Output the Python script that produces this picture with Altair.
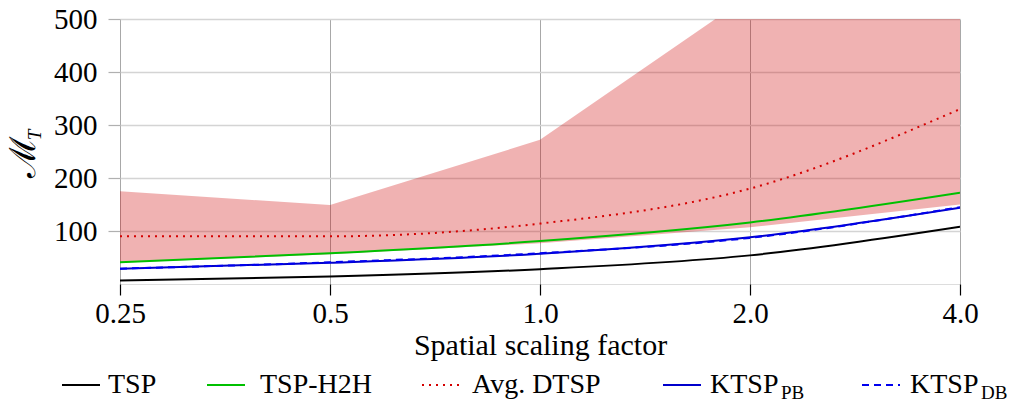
import altair as alt
import pandas as pd

# ---- data ----
x_vals = [0.25, 0.5, 1.0, 2.0, 4.0]
tsp = [6.5, 14, 28, 54, 108]
tsp_h2h = [41, 58, 81, 116, 172]
avg_dtsp = [90, 90, 114, 180, 330]
ktsp_pb = [29, 40, 57, 88, 144]
ktsp_db = [29, 41, 58, 87, 145]
band_low = [40, 56, 77, 107, 150]
band_high = [175, 149, 272, 545, 900]

series_names = ["TSP", "TSP-H2H", "Avg. DTSP", "KTSP_PB", "KTSP_DB"]
series_values = [tsp, tsp_h2h, avg_dtsp, ktsp_pb, ktsp_db]
series_colors = ["#000000", "#00c000", "#d40000", "#0000cc", "#0000ee"]
series_dash = [None, None, [2, 5], None, [7, 5]]
legend_main = ["TSP", "TSP-H2H", "Avg. DTSP", "KTSP", "KTSP"]
legend_sub = ["", "", "", "PB", "DB"]

y_ticks = [100, 200, 300, 400, 500]

FONT = "'Liberation Serif', 'Times New Roman', 'DejaVu Serif', serif"
W, H = 840, 265

xscale = alt.Scale(type="log", base=2, domain=[0.25, 4], nice=False)
yscale = alt.Scale(domain=[0, 500], nice=False)

xaxis = alt.Axis(
    values=x_vals,
    labelExpr="datum.value == 0.25 ? '0.25' : format(datum.value, '.1f')",
    grid=True, gridColor="#a8a8a8", gridWidth=1,
    tickColor="#000000", tickSize=11, tickWidth=1.2,
    domain=False,
    labelFont=FONT, labelFontSize=29, labelColor="#000", labelPadding=4,
    titleFont=FONT, titleFontSize=30, titleFontWeight="normal", titleColor="#000",
    titlePadding=2, labelFlush=False,
)
yaxis = alt.Axis(
    values=y_ticks,
    grid=True, gridColor="#d4d4d4", gridWidth=1.5,
    tickColor="#b0b0b0", tickSize=12, tickWidth=1.2,
    domain=False,
    labelFont=FONT, labelFontSize=29, labelColor="#000", labelPadding=11,
    title=None,
)

band_df = pd.DataFrame({"x": x_vals, "lo": band_low, "hi": band_high})
band = alt.Chart(band_df).mark_area(color="#cc0000", opacity=0.3, clip=True).encode(
    x=alt.X("x:Q", scale=xscale, axis=xaxis, title="Spatial scaling factor"),
    y=alt.Y("lo:Q", scale=yscale, axis=yaxis),
    y2="hi:Q",
)

layers = [band]
for name, vals, col, dash in zip(series_names, series_values, series_colors, series_dash):
    df = pd.DataFrame({"x": x_vals, "y": vals, "s": name})
    kw = dict(color=col, strokeWidth=2, interpolate="monotone", clip=True)
    if dash is not None:
        kw["strokeDash"] = dash
    layers.append(
        alt.Chart(df).mark_line(**kw).encode(
            x=alt.X("x:Q", scale=xscale),
            y=alt.Y("y:Q", scale=yscale),
        )
    )

one = pd.DataFrame({"a": [0]})

# y-axis title: script M with subscript T
layers.append(
    alt.Chart(pd.DataFrame({"t": ["ℳ"]})).mark_text(
        angle=270, fontSize=36, font="DejaVu Serif", color="#000", baseline="middle", align="center"
    ).encode(x=alt.value(-96), y=alt.value(138), text="t:N")
)
layers.append(
    alt.Chart(pd.DataFrame({"t": ["T"]})).mark_text(
        angle=270, fontSize=19, font=FONT, fontStyle="italic", color="#000", baseline="middle", align="center"
    ).encode(x=alt.value(-85), y=alt.value(116), text="t:N")
)

# custom legend beneath the chart
leg_y = 366
leg_sym_x = [-58, 87, 302, 543, 742]
leg_txt_x = [-12, 140, 352, 590, 790]
leg_sub_dx = [0, 0, 0, 71, 71]
for i in range(len(series_names)):
    kw = dict(color=series_colors[i], strokeWidth=2)
    if series_dash[i] is not None:
        kw["strokeDash"] = series_dash[i]
    layers.append(
        alt.Chart(one).mark_rule(**kw).encode(
            x=alt.value(leg_sym_x[i]), x2=alt.value(leg_sym_x[i] + 38), y=alt.value(leg_y)
        )
    )
    layers.append(
        alt.Chart(pd.DataFrame({"t": [legend_main[i]]})).mark_text(
            align="left", baseline="middle", fontSize=28, font=FONT, color="#000"
        ).encode(x=alt.value(leg_txt_x[i]), y=alt.value(leg_y), text="t:N")
    )
    if legend_sub[i]:
        layers.append(
            alt.Chart(pd.DataFrame({"t": [legend_sub[i]]})).mark_text(
                align="left", baseline="middle", fontSize=19, font=FONT, color="#000"
            ).encode(x=alt.value(leg_txt_x[i] + leg_sub_dx[i]), y=alt.value(leg_y + 8), text="t:N")
        )

chart = alt.layer(*layers).properties(
    width=W, height=H,
    autosize=alt.AutoSizeParams(type="none"),
    padding={"left": 120, "top": 19, "right": 61, "bottom": 122},
).configure_view(stroke="#000000", strokeWidth=1.2).configure(background="white")

chart.save("out.html", embed_options={"renderer": "svg", "actions": False})
